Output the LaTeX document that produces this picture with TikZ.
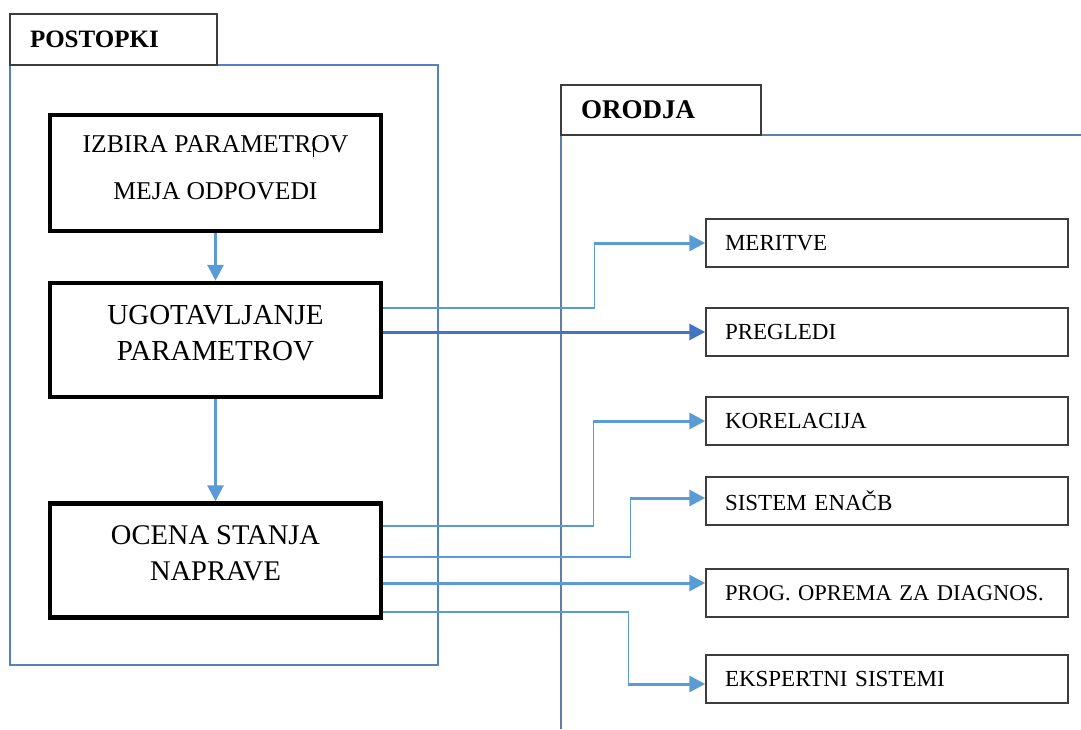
\documentclass[tikz,border=0pt]{standalone}
\usepackage{fontspec}
\setmainfont{Liberation Serif}
\usetikzlibrary{arrows.meta}
\frenchspacing
\definecolor{framea}{RGB}{84,130,190}
\definecolor{frameb}{RGB}{96,126,168}
\definecolor{conn}{RGB}{91,155,213}
\definecolor{conndark}{RGB}{68,114,196}
\definecolor{boxgray}{RGB}{60,60,60}
\tikzset{
  procbox/.style={draw=black, line width=4.5pt, minimum width=331pt, minimum height=116pt, align=center, inner sep=0pt},
  toolbox/.style={draw=boxgray, line width=1.5pt, minimum width=362pt, minimum height=48pt, text width=324pt, align=left, inner xsep=19pt, inner ysep=0pt, font=\fontsize{23}{27}\selectfont},
  tabbox/.style={draw=boxgray, line width=1.3pt, fill=white, align=left, inner xsep=20pt, inner ysep=0pt},
  thinconn/.style={draw=conn, line width=1.5pt},
  thickconn/.style={draw=conn, line width=3pt, -{Triangle[length=16pt,width=16pt]}},
}
\begin{document}
\begin{tikzpicture}[x=1pt,y=-1pt]
\useasboundingbox (0,0) rectangle (1081,729);
% frames
\draw[framea, line width=1.2pt] (10,65) rectangle (438,665);
\draw[frameb, line width=1.4pt] (761,135) -- (1081,135);
\draw[frameb, line width=1.4pt] (561,135) -- (561,729);
\node[tabbox, minimum width=207pt, minimum height=51pt, text width=167pt, font=\bfseries\fontsize{25}{30}\selectfont] (t1) at (113.5,39.5) {POSTOPKI};
\node[tabbox, minimum width=200pt, minimum height=50pt, text width=160pt, font=\bfseries\fontsize{27}{30}\selectfont] (t2) at (661,110) {ORODJA};
% process boxes
\node[procbox, font=\fontsize{25.6}{47}\selectfont] (b1) at (215.5,173) {IZBIRA PARAMETROV\\MEJA ODPOVEDI\rule[-10pt]{0pt}{10pt}};
\node[procbox, minimum height=114pt, font=\fontsize{29}{36}\selectfont] (b2) at (215.5,340) {UGOTAVLJANJE\\PARAMETROV\rule[-14pt]{0pt}{14pt}};
\node[procbox, minimum height=114pt, font=\fontsize{28.5}{36}\selectfont] (b3) at (215.5,560.5) {OCENA STANJA\\NAPRAVE\rule[-14pt]{0pt}{14pt}};
\draw[black, line width=0.8pt] (313,138) -- (313,157);
% tool boxes
\node[toolbox] (m1) at (887,243) {MERITVE};
\node[toolbox] (m2) at (887,332) {PREGLEDI};
\node[toolbox] (m3) at (887,421) {KORELACIJA};
\node[toolbox] (m4) at (887,501) {SISTEM ENAČB};
\node[toolbox, font=\fontsize{22.5}{27}\selectfont] (m5) at (887,593) {\mbox{PROG. OPREMA ZA DIAGNOS.}};
\node[toolbox] (m6) at (887,679) {EKSPERTNI SISTEMI};
% vertical arrows
\draw[thickconn] (b1.south) -- (b2.north);
\draw[thickconn] (b2.south) -- (b3.north);
% connectors
\draw[thinconn] ([yshift=32pt]b2.east) -| ([xshift=-111pt]m1.west);
\draw[thickconn] ([xshift=-111pt]m1.west) -- (m1.west);
\draw[thickconn, draw=conndark, -{Triangle[length=16pt,width=16pt]}] ([yshift=8pt]b2.east) -- (m2.west);
\draw[thinconn] ([yshift=34.5pt]b3.east) -| ([xshift=-112pt]m3.west);
\draw[thickconn] ([xshift=-112pt]m3.west) -- (m3.west);
\draw[thinconn] ([yshift=3.5pt]b3.east) -| ([xshift=-75pt,yshift=3pt]m4.west);
\draw[thickconn] ([xshift=-75pt,yshift=3pt]m4.west) -- ([yshift=3pt]m4.west);
\draw[thickconn] ([yshift=-22.5pt]b3.east) -- ([yshift=10pt]m5.west);
\draw[thinconn] ([yshift=-51.5pt]b3.east) -| ([xshift=-77pt,yshift=-5pt]m6.west);
\draw[thickconn] ([xshift=-77pt,yshift=-5pt]m6.west) -- ([yshift=-5pt]m6.west);
\end{tikzpicture}
\end{document}
